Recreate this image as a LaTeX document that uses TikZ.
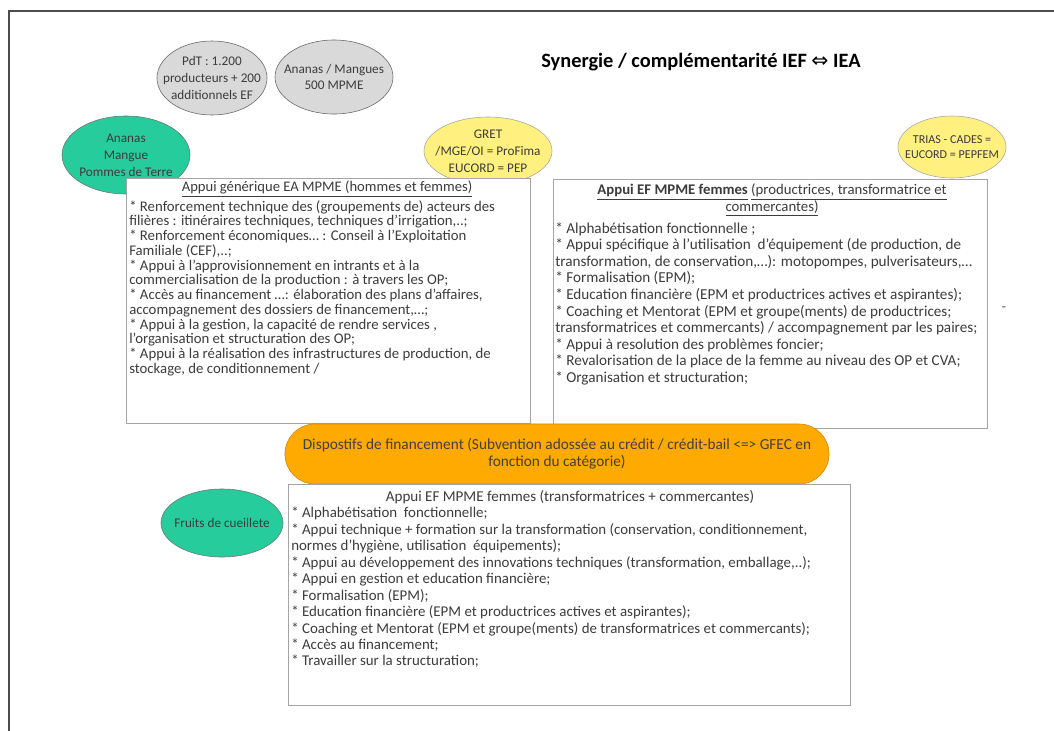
\documentclass[tikz,border=0pt]{standalone}
\usepackage{fontspec}
\setmainfont{Carlito}
\newfontfamily\arrowfont{DejaVu Sans}
\usepackage{xcolor}
\usepackage{tikz}
\usetikzlibrary{shapes.geometric}
\definecolor{ellgrey}{RGB}{217,217,217}
\definecolor{leafgreen}{RGB}{38,204,155}
\definecolor{paleyellow}{RGB}{255,240,128}
\definecolor{fundorange}{RGB}{255,170,0}
\definecolor{boxline}{RGB}{165,165,165}
\definecolor{inkgrey}{RGB}{60,60,60}

\begin{document}
\begin{tikzpicture}[x=0.025cm, y=-0.025cm,
  bubble/.style={ellipse, inner xsep=-0.4cm, inner ysep=-0.2cm, align=center, text=inkgrey, font=\fontsize{9.4}{12}\selectfont},
  listbox/.style={draw=boxline, rectangle, line width=0.6pt, inner sep=0pt},
  listtext/.style={anchor=north west, align=left, inner sep=0pt, text=inkgrey}]%
\fill[white] (0,0) rectangle (1054,731);%
\useasboundingbox (0,0) rectangle (1054,731);%
\draw[line width=0.8pt, black!70] (9,731) -- (9,11) -- (1054,11);%
% top row
\node[bubble, draw=black!60, fill=ellgrey, minimum width=2.75cm, minimum height=1.85cm] (pdt) at (212,78) {PdT : 1.200\\producteurs + 200\\additionnels EF};%
\node[bubble, draw=black!60, fill=ellgrey, minimum width=2.95cm, minimum height=1.85cm] (ananas) at (334,77) {Ananas / Mangues\\500 MPME};%
\node[text=black, font=\fontsize{14.5}{16}\selectfont\bfseries] (synergie) at (701,62) {Synergie / complémentarité IEF {\arrowfont\mdseries ⇔} IEA};%
\node[bubble, draw=black!55, fill=leafgreen, minimum width=3.2cm, minimum height=1.95cm] (filieres) at (126,155) {Ananas\\Mangue\\Pommes de Terre};%
\node[bubble, draw=black!35, fill=paleyellow, minimum width=3.2cm, minimum height=1.7cm] (gret) at (488,151) {GRET\\/MGE/OI = ProFima\\EUCORD = PEP};%
\node[bubble, draw=black!35, fill=paleyellow, minimum width=2.7cm, minimum height=1.55cm, font=\fontsize{8.6}{11}\selectfont] (trias) at (952,147) {TRIAS - CADES =\\EUCORD = PEPFEM};%
% appui generique
\node[listbox, fill=white, minimum width=10.1cm, minimum height=6.125cm] (appuiEA) at (328,300.5) {};%
\node[text=inkgrey, font=\fontsize{10.4}{10.5}\selectfont] (appuiEAtitre) at (327,189) {\underline{Appui générique EA MPME (hommes et femmes)}};%
\node[listtext, font=\fontsize{10.5}{10.5}\selectfont] (appuiEAliste) at (129,200) {* Renforcement technique des (groupements de) acteurs des\\filières : itinéraires techniques, techniques d'irrigation,..;\\* Renforcement économiques… : Conseil à l'Exploitation\\Familiale (CEF),..;\\* Appui à l'approvisionnement en intrants et à la\\commercialisation de la production : à travers les OP;\\* Accès au financement …: élaboration des plans d'affaires,\\accompagnement des dossiers de financement,…;\\* Appui à la gestion, la capacité de rendre services ,\\l'organisation et structuration des OP;\\* Appui à la réalisation des infrastructures de production, de\\stockage, de conditionnement /};%
% appui femmes
\node[listbox, fill=white, minimum width=10.85cm, minimum height=6.225cm] (appuiEF) at (770,303.5) {};%
\node[text=inkgrey, align=center, font=\fontsize{10.5}{11.6}\selectfont] (appuiEFtitre) at (772,200) {\textbf{\underline{Appui EF MPME femmes}} \underline{(productrices, transformatrice et}\\\underline{commercantes)}};%
\node[listtext, font=\fontsize{10.8}{11.8}\selectfont] (appuiEFliste) at (555,222) {* Alphabétisation fonctionnelle ;\\* Appui spécifique à l'utilisation \ d'équipement (de production, de\\transformation, de conservation,…): motopompes, pulverisateurs,…\\* Formalisation (EPM);\\* Education financière (EPM et productrices actives et aspirantes);\\* Coaching et Mentorat (EPM et groupe(ments) de productrices;\\transformatrices et commercants) / accompagnement par les paires;\\* Appui à resolution des problèmes foncier;\\* Revalorisation de la place de la femme au niveau des OP et CVA;\\* Organisation et structuration;};%
\node[text=black!60, font=\fontsize{10.5}{11}\selectfont] (tiret) at (1004,309) {-};%
% financement
\node[draw=fundorange!80!black, fill=fundorange, rectangle, rounded corners=0.75cm, minimum width=13.6cm, minimum height=1.5cm, inner sep=0pt, align=center, text=black!75, font=\fontsize{10.9}{12}\selectfont] (financement) at (557,454) {Dispostifs de financement (Subvention adossée au crédit / crédit-bail <=> GFEC en\\fonction du catégorie)};%
% transformatrices
\node[listbox, fill=white, minimum width=14.05cm, minimum height=5.525cm] (appuiTrans) at (569,594.5) {};%
\node[text=inkgrey, font=\fontsize{10.7}{11.7}\selectfont] (appuiTranstitre) at (570,497) {Appui EF MPME femmes (transformatrices + commercantes)};%
\node[listtext, font=\fontsize{10.6}{11.7}\selectfont] (appuiTransliste) at (291,507) {* Alphabétisation \ fonctionnelle;\\* Appui technique + formation sur la transformation (conservation, conditionnement,\\normes d'hygiène, utilisation \ équipements);\\* Appui au développement des innovations techniques (transformation, emballage,..);\\* Appui en gestion et education financière;\\* Formalisation (EPM);\\* Education financière (EPM et productrices actives et aspirantes);\\* Coaching et Mentorat (EPM et groupe(ments) de transformatrices et commercants);\\* Accès au financement;\\* Travailler sur la structuration;};%
\node[bubble, draw=black!55, fill=leafgreen, minimum width=3.05cm, minimum height=1.7cm] (cueillette) at (222,523) {Fruits de cueillete};%
\end{tikzpicture}
\end{document}
